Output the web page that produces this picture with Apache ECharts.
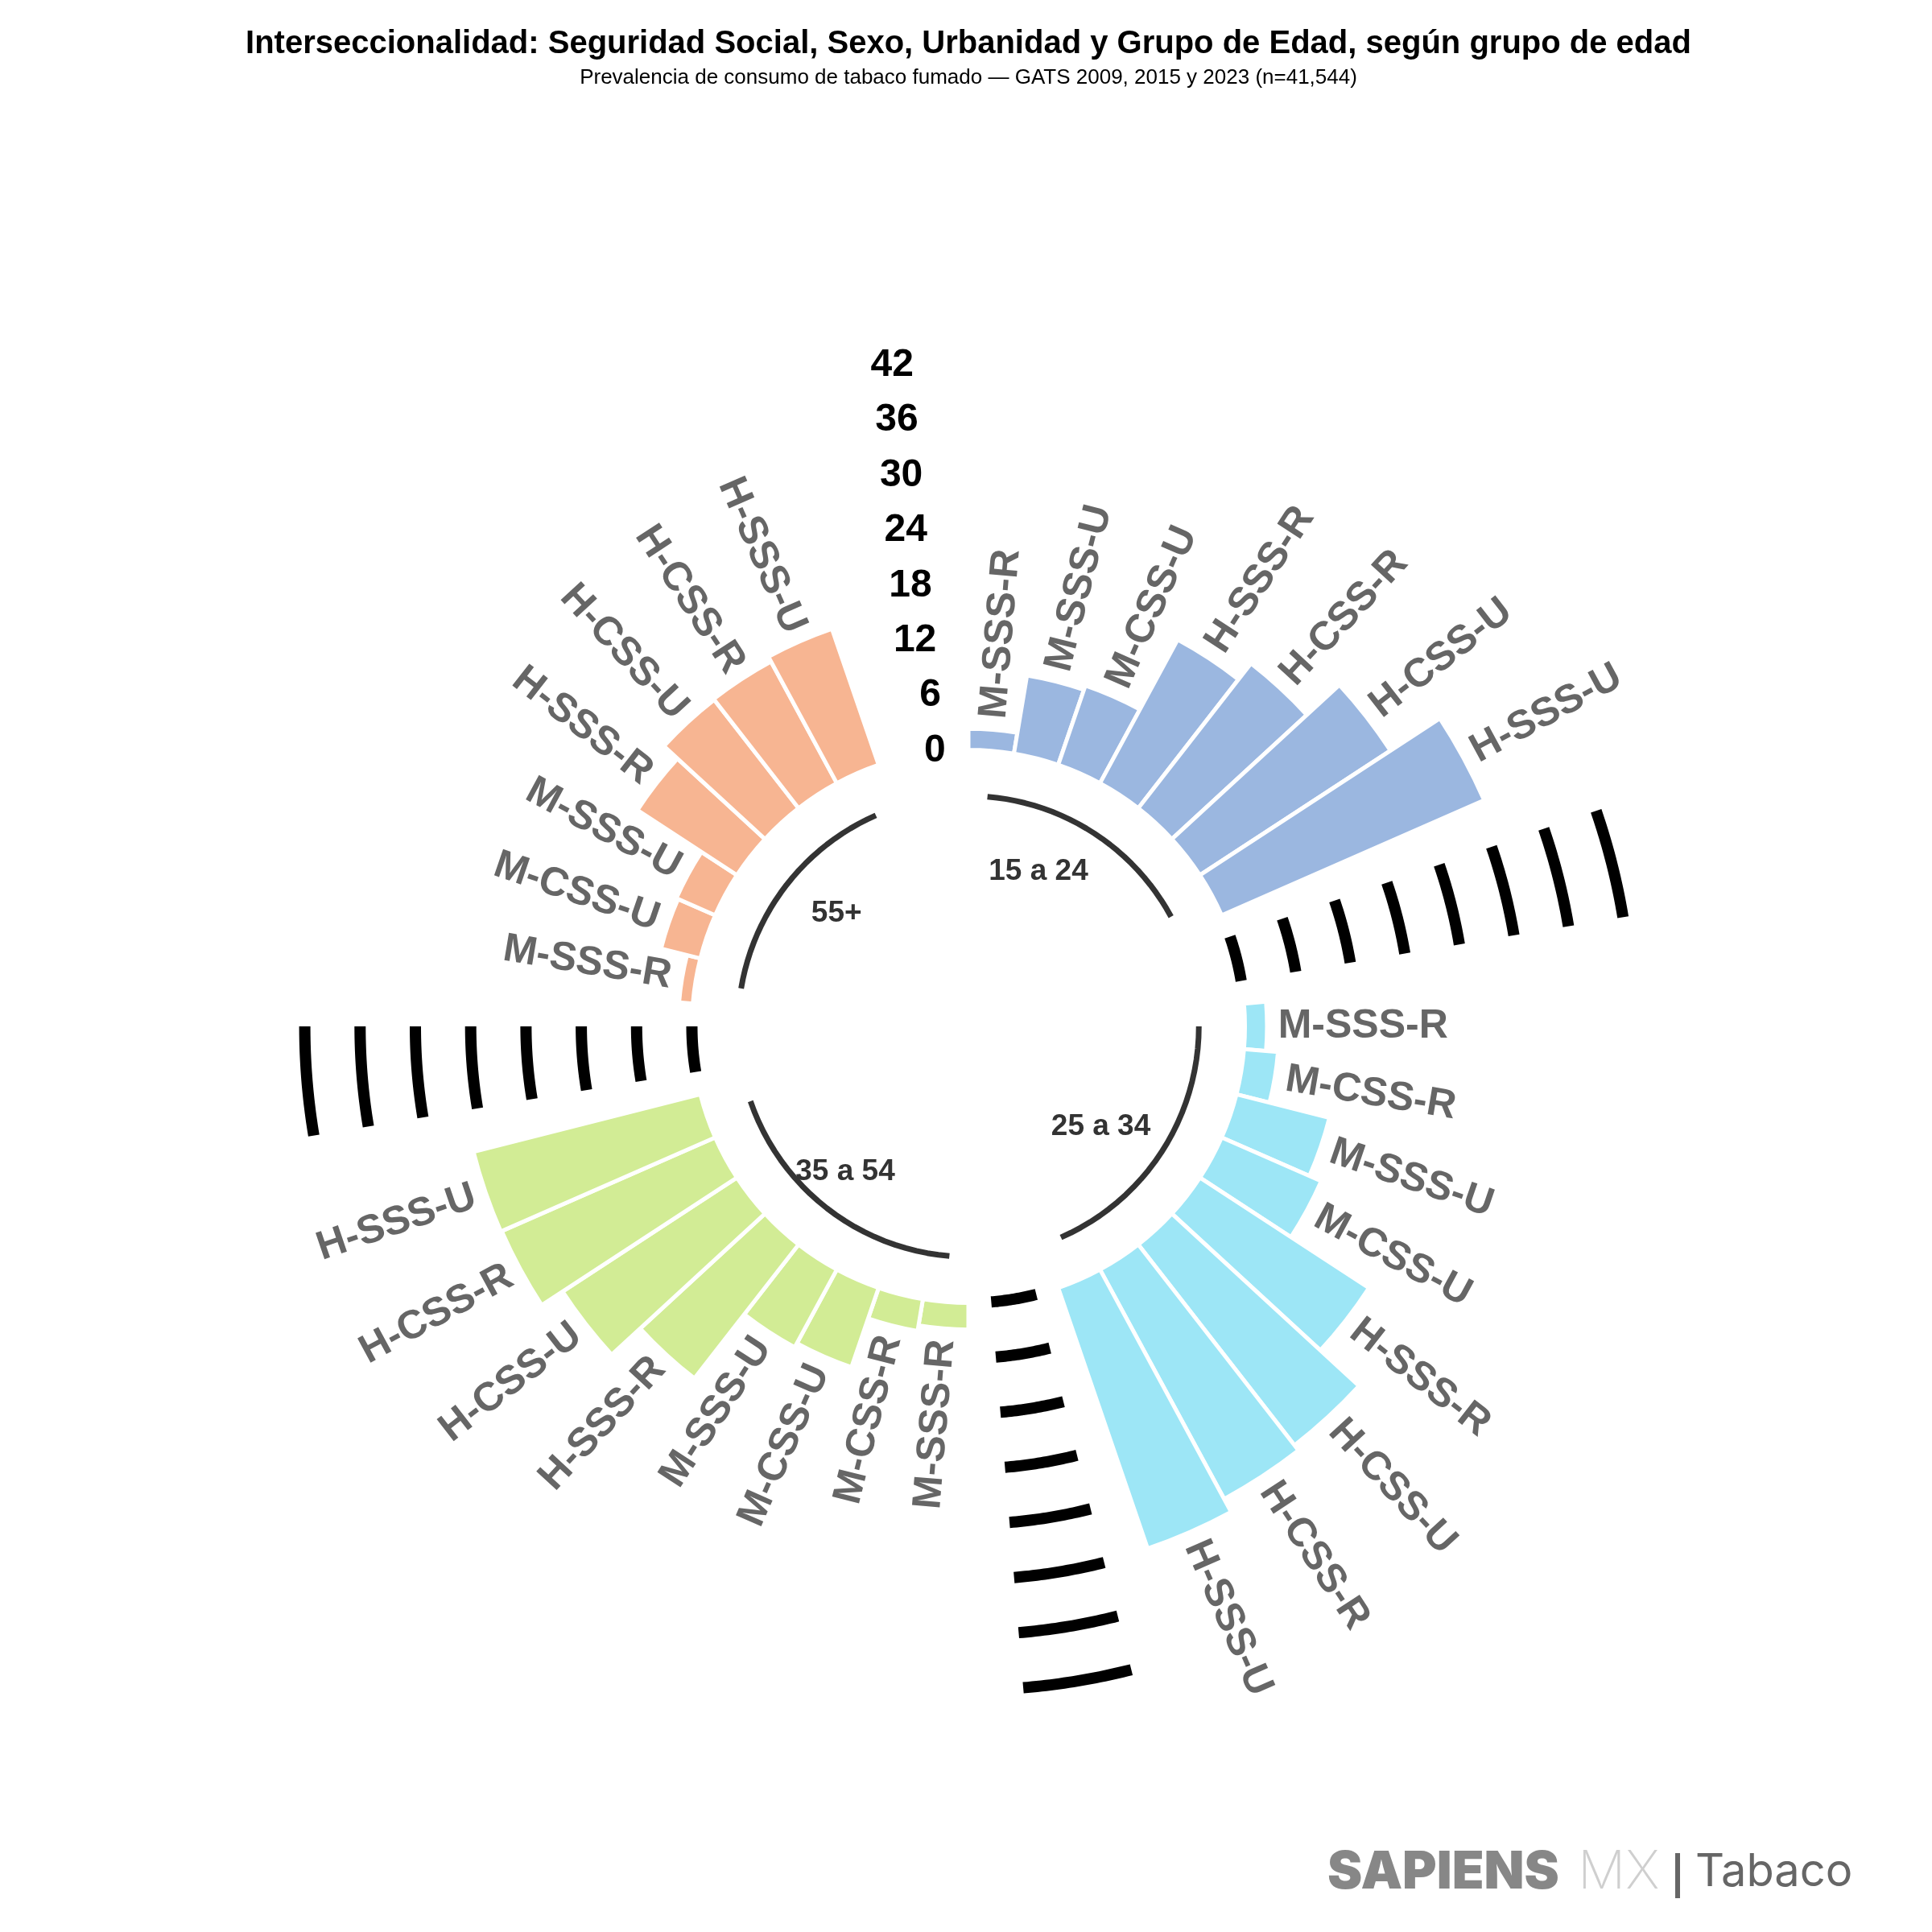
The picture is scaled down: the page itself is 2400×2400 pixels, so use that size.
<!DOCTYPE html>
<html>
<head>
<meta charset="utf-8">
<script src="https://cdn.jsdelivr.net/npm/echarts@6/dist/echarts.min.js"></script>
<style>
html,body{margin:0;padding:0;background:#ffffff;}
#chart{width:2400px;height:2400px;}
</style>
</head>
<body>
<div id="chart"></div>
<script>
// ---------------- DATA ----------------
const groups = ['15 a 24', '25 a 34', '35 a 54', '55+'];

const labels1524 = ['M-SSS-R', 'M-SSS-U', 'M-CSS-U', 'H-SSS-R', 'H-CSS-R', 'H-CSS-U', 'H-SSS-U'];
const values1524 = [2.3, 8.6, 9.1, 17.7, 19.9, 24.7, 31.1];

const labels2534 = ['M-SSS-R', 'M-CSS-R', 'M-SSS-U', 'M-CSS-U', 'H-SSS-R', 'H-CSS-U', 'H-CSS-R', 'H-SSS-U'];
const values2534 = [2.4, 3.7, 10.4, 11.8, 21.9, 27.6, 28.3, 29.9];

const labels3554 = ['M-SSS-R', 'M-CSS-R', 'M-CSS-U', 'M-SSS-U', 'H-SSS-R', 'H-CSS-U', 'H-CSS-R', 'H-SSS-U'];
const values3554 = [2.9, 3.5, 9.1, 9.6, 18.4, 22.6, 25.3, 25.4];

const labels55 = ['M-SSS-R', 'M-CSS-U', 'M-SSS-U', 'H-SSS-R', 'H-CSS-U', 'H-CSS-R', 'H-SSS-U'];
const values55 = [1.5, 4.4, 4.6, 12.9, 14.9, 15.0, 15.6];

const gridTicks = [0, 6, 12, 18, 24, 30, 36, 42];
const tickLabels = ['0', '6', '12', '18', '24', '30', '36', '42'];

const titleText = 'Interseccionalidad: Seguridad Social, Sexo, Urbanidad y Grupo de Edad, según grupo de edad';
const subtitleText = 'Prevalencia de consumo de tabaco fumado \u2014 GATS 2009, 2015 y 2023 (n=41,544)';

// ---------------- STYLE ----------------
const colors = ['#9bb7e0', '#9de6f6', '#d2ec95', '#f7b592'];
const titleHjust = [0.81, 0.72, 0.6, 0.23];
const EMPTY = 2;          // empty positions after each group
const LABEL_OFFSET = 1.2; // value units beyond bar top
const ARC_Y = -5;
const TITLE_Y = -10;
const FONT = '"Liberation Sans", Arial, Helvetica, sans-serif';

// ---------------- BUILD ----------------
const groupLabels = [labels1524, labels2534, labels3554, labels55];
const groupValues = [values1524, values2534, values3554, values55];
const bars = [];      // [value, position, group]
const barNames = [];
const spans = [];
let pos = 1;
groupLabels.forEach(function (labs, g) {
  const start = pos;
  labs.forEach(function (lab, i) {
    bars.push([groupValues[g][i], pos, g]);
    barNames.push(lab);
    pos++;
  });
  spans.push([start, pos - 1]);
  pos += EMPTY;
});
const N = pos - 1;

const gridData = [];
for (let g = 1; g < spans.length; g++) {
  gridTicks.forEach(function (t) {
    gridData.push([t, spans[g - 1][1] + 1, spans[g][0] - 1]);
  });
}
const arcData = spans.map(function (s, g) { return [ARC_Y, s[0], s[1], g]; });
const groupTitleData = spans.map(function (s, g) { return [TITLE_Y, (s[0] + s[1]) / 2, g]; });
const tickData = gridTicks.map(function (t) { return [t, N]; });

const measureCtx = document.createElement('canvas').getContext('2d');
function textWidth(txt, font) { measureCtx.font = font; return measureCtx.measureText(txt).width; }

function pt(api, cs, rv, av) {
  const p = api.coord([rv, av]);
  const dx = p[0] - cs.cx, dy = p[1] - cs.cy;
  return { x: p[0], y: p[1], r: Math.sqrt(dx * dx + dy * dy), a: Math.atan2(dy, dx), dx: dx };
}

// arc drawn as a polyline along the circle (through the polar scale's end points)
function arcPoints(cs, r, a0, a1) {
  let e = a1; if (e < a0) e += 2 * Math.PI;
  const n = 24, pts = [];
  for (let i = 0; i <= n; i++) {
    const t = a0 + (e - a0) * i / n;
    pts.push([cs.cx + r * Math.cos(t), cs.cy + r * Math.sin(t)]);
  }
  return pts;
}

const chart = echarts.init(document.getElementById('chart'), null, { renderer: 'canvas', width: 2400, height: 2400 });

const option = {
  backgroundColor: '#ffffff',
  animation: false,
  polar: { center: [1203, 1275], radius: [0, 11.45 * (48 + 30)] },
  angleAxis: {
    type: 'value', min: 0.5, max: N + 0.5, startAngle: 90, clockwise: true,
    axisLine: { show: false }, axisTick: { show: false }, axisLabel: { show: false },
    splitLine: { show: false }, splitArea: { show: false }
  },
  radiusAxis: {
    type: 'value', min: -30, max: 48,
    axisLine: { show: false }, axisTick: { show: false }, axisLabel: { show: false },
    splitLine: { show: false }, splitArea: { show: false }
  },
  graphic: [
    { type: 'text', x: 1203, y: 55, style: { text: titleText, font: 'bold 40px ' + FONT, fill: '#000', align: 'center', verticalAlign: 'middle' } },
    { type: 'text', x: 1203, y: 97, style: { text: subtitleText, font: '26px ' + FONT, fill: '#000', align: 'center', verticalAlign: 'middle' } },
    { type: 'text', x: 1649, y: 2326, style: { text: 'SAPIENS', font: '900 65px Inter, Roboto, "Noto Sans", sans-serif', fill: '#878787', align: 'left', verticalAlign: 'middle' } },
    { type: 'text', x: 1960, y: 2326, style: { text: 'MX', font: '200 66px Inter, Lato, Roboto, sans-serif', fill: '#cfcfcf', align: 'left', verticalAlign: 'middle' } },
    { type: 'rect', shape: { x: 2081, y: 2302, width: 6, height: 56 }, style: { fill: '#666666' } },
    { type: 'text', x: 2106, y: 2326, style: { text: 'Tabaco', font: '400 56px Inter, Roboto, sans-serif', fill: '#666666', align: 'left', verticalAlign: 'middle' } }
  ],
  series: [
    {
      name: 'grid', type: 'custom', coordinateSystem: 'polar', data: gridData, silent: true,
      renderItem: function (params, api) {
        const cs = params.coordSys;
        const a = pt(api, cs, api.value(0), api.value(1));
        const b = pt(api, cs, api.value(0), api.value(2));
        return { type: 'polyline', shape: { points: arcPoints(cs, a.r, a.a, b.a) },
          style: { stroke: '#000000', lineWidth: 14, fill: null, lineJoin: 'round', lineCap: 'butt' } };
      }
    },
    {
      name: 'bars', type: 'custom', coordinateSystem: 'polar', data: bars,
      renderItem: function (params, api) {
        const cs = params.coordSys;
        const v = api.value(0), p = api.value(1), g = api.value(2);
        const base = pt(api, cs, 0, p), top = pt(api, cs, v, p);
        const s = pt(api, cs, 0, p - 0.5), e = pt(api, cs, 0, p + 0.5);
        let ea = e.a; if (ea < s.a) ea += 2 * Math.PI;
        return { type: 'sector', shape: { cx: cs.cx, cy: cs.cy, r0: base.r, r: top.r, startAngle: s.a, endAngle: ea, clockwise: true },
          style: { fill: colors[g], stroke: '#ffffff', lineWidth: 5, lineJoin: 'bevel' } };
      }
    },
    {
      name: 'barLabels', type: 'custom', coordinateSystem: 'polar', data: bars, silent: true,
      renderItem: function (params, api) {
        const cs = params.coordSys;
        const v = api.value(0), p = api.value(1);
        const q = pt(api, cs, v + LABEL_OFFSET, p);
        const left = q.dx < 0;
        const rot = left ? -(q.a + Math.PI) : -q.a;
        return { type: 'text', x: q.x, y: q.y, rotation: rot,
          style: { text: barNames[params.dataIndex], x: 0, y: 0, align: left ? 'right' : 'left', verticalAlign: 'middle',
            font: 'bold 50px ' + FONT, fill: '#666666' } };
      }
    },
    {
      name: 'groupArcs', type: 'custom', coordinateSystem: 'polar', data: arcData, silent: true,
      renderItem: function (params, api) {
        const cs = params.coordSys;
        const a = pt(api, cs, api.value(0), api.value(1));
        const b = pt(api, cs, api.value(0), api.value(2));
        return { type: 'polyline', shape: { points: arcPoints(cs, a.r, a.a, b.a) },
          style: { stroke: '#333333', lineWidth: 7, fill: null, lineJoin: 'round', lineCap: 'butt' } };
      }
    },
    {
      name: 'groupTitles', type: 'custom', coordinateSystem: 'polar', data: groupTitleData, silent: true,
      renderItem: function (params, api) {
        const cs = params.coordSys;
        const g = api.value(2);
        const q = pt(api, cs, api.value(0), api.value(1));
        const font = 'bold 37px ' + FONT;
        const w = textWidth(groups[g], font);
        return { type: 'text', x: q.x - titleHjust[g] * w, y: q.y,
          style: { text: groups[g], x: 0, y: 0, align: 'left', verticalAlign: 'middle', font: font, fill: '#333333' } };
      }
    },
    {
      name: 'ticks', type: 'custom', coordinateSystem: 'polar', data: tickData, silent: true,
      renderItem: function (params, api) {
        const cs = params.coordSys;
        const q = pt(api, cs, api.value(0), api.value(1));
        return { type: 'text', x: q.x, y: q.y,
          style: { text: tickLabels[params.dataIndex], x: 0, y: 0, align: 'right', verticalAlign: 'middle', font: 'bold 48px ' + FONT, fill: '#000000' } };
      }
    }
  ]
};
chart.setOption(option);
</script>
</body>
</html>
